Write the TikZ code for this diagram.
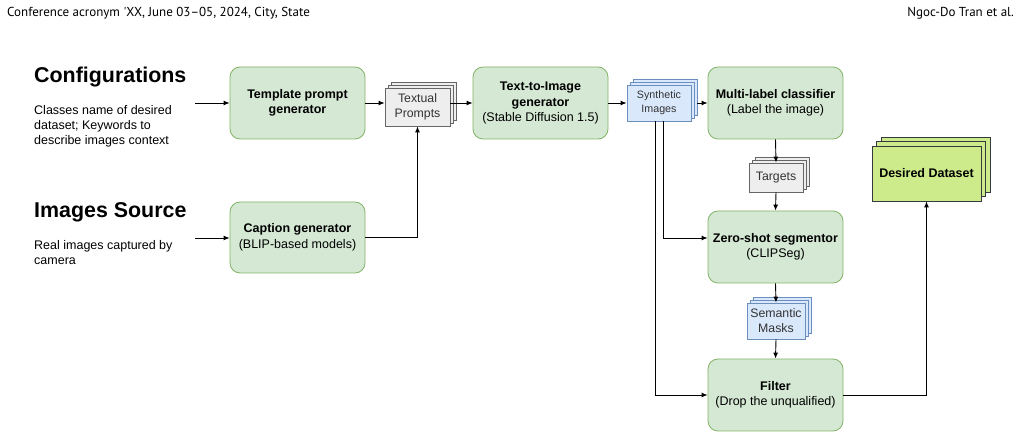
\documentclass[tikz,border=0pt]{standalone}
\usepackage{fontspec}
\setmainfont{Liberation Sans}
\newfontfamily\hdrfont{PT Sans}
\usetikzlibrary{arrows.meta,shadows}
\definecolor{gfill}{HTML}{D5E8D4}
\definecolor{gline}{HTML}{82B366}
\definecolor{bfill}{HTML}{DAE8FC}
\definecolor{bline}{HTML}{6C8EBF}
\definecolor{kfill}{HTML}{EEEEEE}
\definecolor{kline}{HTML}{666666}
\definecolor{dfill}{HTML}{CDEB8B}
\definecolor{dline}{HTML}{36393D}
\definecolor{ktext}{HTML}{333333}
\begin{document}
\begin{tikzpicture}[x=1pt,y=-1pt,
  stagebox/.style={draw=gline,fill=gfill,rounded corners=10pt,minimum width=135pt,minimum height=72pt,align=center,line width=0.8pt,font=\fontsize{12.5}{15.5}\selectfont},
  stack/.style={line width=0.8pt,align=center,inner sep=1pt,
     copy shadow={shadow xshift=#1*2,shadow yshift=#1*2},
     copy shadow={shadow xshift=#1,shadow yshift=#1}},
  graystack/.style={stack=3pt,draw=kline,fill=kfill,text=ktext,font=\fontsize{12.3}{15}\selectfont},
  bluestack/.style={stack=3pt,draw=bline,fill=bfill,text=ktext},
  arr/.style={-{Latex[length=6pt,width=5pt]},line width=0.9pt},
  title/.style={anchor=west,font=\bfseries\fontsize{21.4}{24}\selectfont,inner sep=0pt},
  desc/.style={anchor=north west,align=left,font=\fontsize{12.5}{15}\selectfont,inner sep=0pt},
  hdr/.style={font=\hdrfont\fontsize{13}{15}\selectfont,inner sep=0pt}
]
\useasboundingbox (0,0) rectangle (1021,438);
% header
\node[hdr,anchor=base west] (hl) at (7,16.7) {Conference acronym 'XX, June 03–05, 2024, City, State};
\node[hdr,anchor=base east] (hr) at (1014,16.7) {Ngoc-Do Tran et al.};
% left texts
\node[title] (cfg) at (34,77) {Configurations};
\node[desc] (cfgd) at (34,105) {Classes name of desired\\dataset; Keywords to\\describe images context};
\node[title] (src) at (34,212) {Images Source};
\node[desc] (srcd) at (34,240) {Real images captured by\\camera};
% stage boxes
\node[stagebox] (tpl) at (297.5,103) {\textbf{Template prompt}\\\textbf{generator}};
\node[stagebox,minimum height=71pt] (cap) at (297.5,237.5) {\textbf{Caption generator}\\(BLIP-based models)};
\node[stagebox] (t2i) at (540.5,103) {\textbf{Text-to-Image}\\\textbf{generator}\\(Stable Diffusion 1.5)};
\node[stagebox] (mlc) at (775.5,103) {\textbf{Multi-label classifier}\\(Label the image)};
\node[stagebox] (zss) at (775.5,247) {\textbf{Zero-shot segmentor}\\(CLIPSeg)};
\node[stagebox] (flt) at (775.5,395) {\textbf{Filter}\\(Drop the unqualified)};
% stacks
\node[graystack,minimum width=65pt,minimum height=38pt] (tp) at (417.5,107) {Textual\\Prompts};
\node[bluestack,minimum width=64pt,minimum height=36pt,font=\fontsize{10.7}{14}\selectfont] (syn) at (659,103) {Synthetic\\Images};
\node[graystack,minimum width=54pt,minimum height=29pt] (tgt) at (776,177.5) {Targets};
\node[bluestack,minimum width=58pt,minimum height=36pt,font=\fontsize{12.3}{15}\selectfont] (sem) at (776,321) {Semantic\\Masks};
\node[stack=4.5pt,draw=dline,fill=dfill,minimum width=109pt,minimum height=55pt,font=\bfseries\fontsize{12.5}{15}\selectfont] (des) at (926.5,173.5) {Desired Dataset};
% connectors
\coordinate (cin) at (195,103);
\coordinate (sin) at (195,238);
\draw[arr] (cin) -- (tpl.west |- cin);
\draw[arr] (sin) -- (cap.west |- sin);
\draw[arr] (tpl.east) -- (tpl.east -| tp.west);
\draw[arr] (cap.east) -| (tp.south);
\draw[arr] (tp.east |- t2i.east) -- (t2i.east -| t2i.west);
\draw[arr] (t2i.east) -- (t2i.east -| syn.west);
\draw[arr] ([xshift=6pt]syn.east |- mlc.west) -- (mlc.west);
\draw[arr] (mlc.south) -- (tgt.north);
\draw[arr] (tgt.south) -- (zss.north);
\draw[arr] (zss.south) -- (sem.north);
\draw[arr] (sem.south) -- (flt.north);
\draw[arr] ([xshift=4pt]syn.south) |- ([yshift=9pt]zss.west);
\draw[arr] ([xshift=-4pt]syn.south) |- (flt.west);
\draw[arr] (flt.east) -| (des.south);
\end{tikzpicture}
\end{document}
